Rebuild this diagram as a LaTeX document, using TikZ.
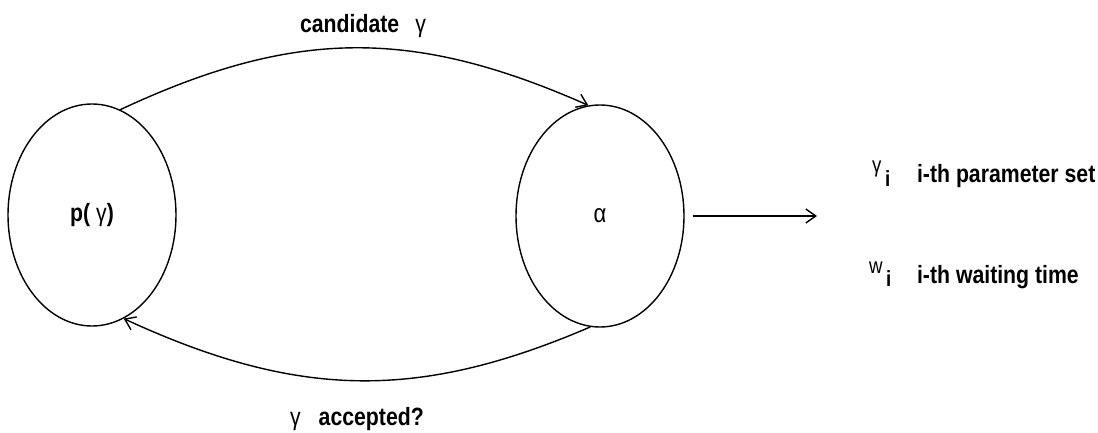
\documentclass[tikz,border=0pt]{standalone}
\usepackage{fontspec}
\setmainfont{Liberation Sans}[FakeStretch=0.85]
\usetikzlibrary{arrows.meta,shapes.geometric}
\tikzset{
  state/.style={ellipse,draw,line width=0.7pt,minimum width=84pt,minimum height=111pt,inner sep=0pt},
  flow/.style={-{Straight Barb[length=5pt,width=7pt]},line width=0.7pt},
  lbl/.style={font=\fontsize{12.5}{15}\selectfont\bfseries},
  sym/.style={font=\fontsize{11}{13}\selectfont},
}
\newcommand{\legsym}[1]{\raisebox{5pt}{#1}\,\raisebox{-1.5pt}{\bfseries i}}
\begin{document}
\begin{tikzpicture}[x=0.5pt,y=-0.5pt]
  \useasboundingbox (0,0) rectangle (1098,433);
  % the two states
  \node[state,lbl] (prior) at (92,215) {p( {\mdseries γ})};
  \node[state,font=\fontsize{13}{15}\selectfont] (accept) at (600,216) {α};
  \coordinate (out) at (817,216);
  % transitions
  \draw[flow] (prior.75) .. controls (295,28) and (413,28) .. (accept.96);
  \draw[flow] (accept.265) .. controls (420,400) and (300,400) .. (prior.287);
  \draw[flow,shorten <=4pt] (accept.east) -- (out);
  \node[lbl,anchor=base west] (cand) at (293,33) {candidate\hspace{8pt}{\mdseries γ}};
  \node[lbl,anchor=base west] (acc) at (283,425) {{\mdseries γ}\hspace{9pt}accepted?};
  % legend
  \node[sym,anchor=base west] (gsym) at (865,183) {\legsym{γ}};
  \node[lbl,anchor=base west] (par) at (910,183) {i-th parameter set};
  \node[sym,anchor=base west] (wsym) at (862,283) {\legsym{w}};
  \node[lbl,anchor=base west] (wait) at (910,283) {i-th waiting time};
\end{tikzpicture}
\end{document}
